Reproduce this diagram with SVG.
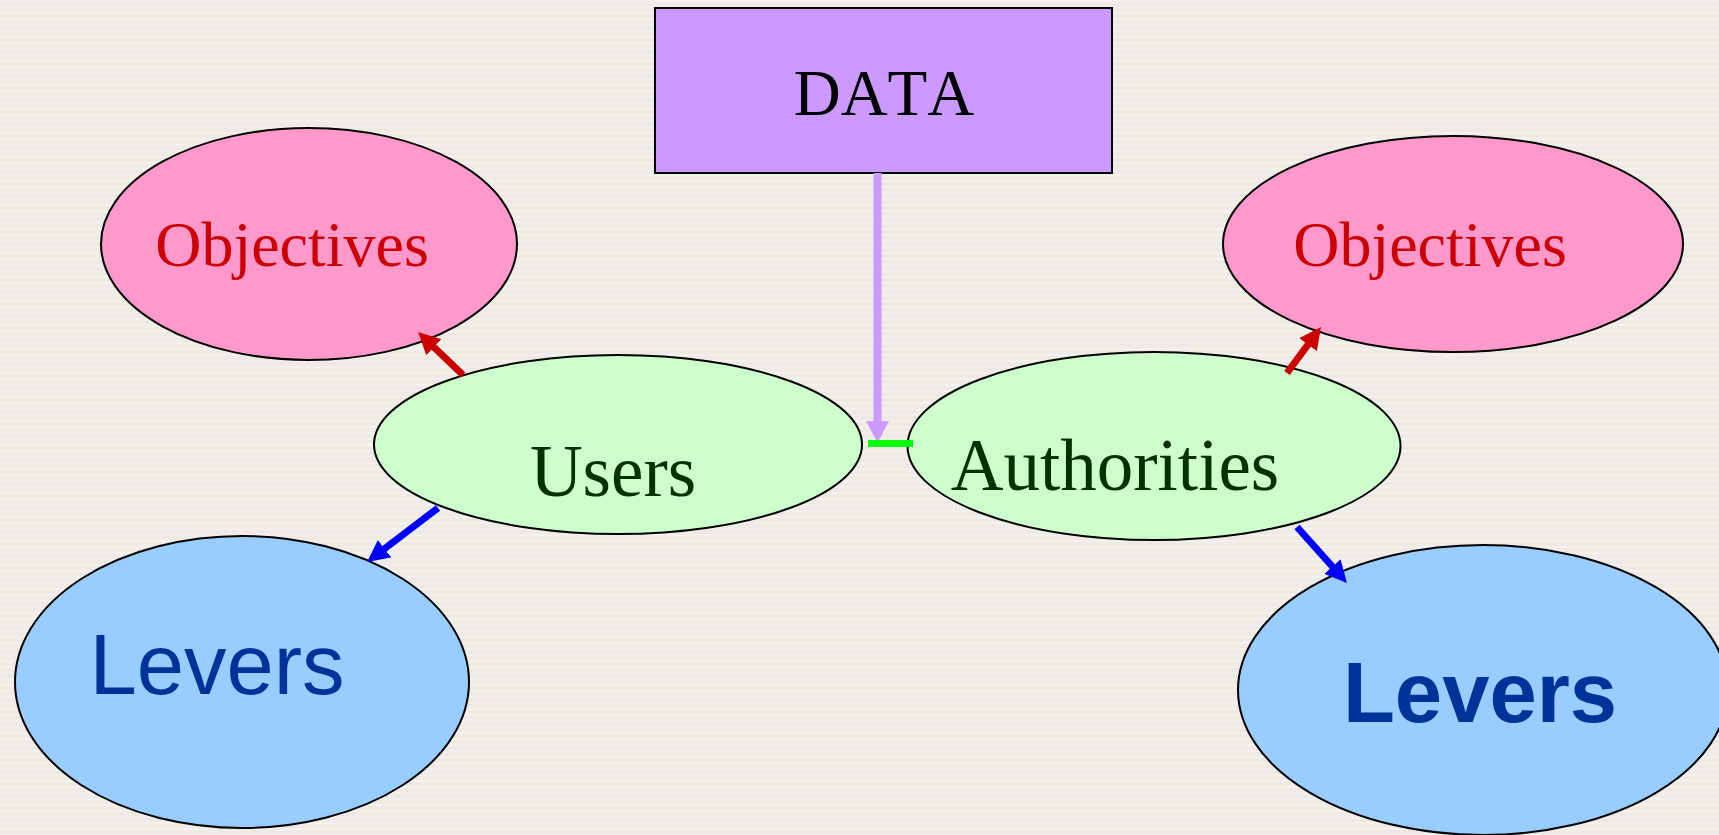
<svg xmlns="http://www.w3.org/2000/svg" width="1719" height="835" viewBox="0 0 1719 835">
  <defs>
    <pattern id="bgStripes" width="8" height="6" patternUnits="userSpaceOnUse">
      <rect width="8" height="6" fill="#EEEAE4"/>
      <rect y="0" width="8" height="2" fill="#F3F1EC"/>
    </pattern>
    <marker id="headRed" markerUnits="userSpaceOnUse" markerWidth="24" markerHeight="24" refX="10" refY="11" orient="auto">
      <path d="M0,0 L22,11 L0,22 z" fill="#CC0000"/>
    </marker>
    <marker id="headBlue" markerUnits="userSpaceOnUse" markerWidth="24" markerHeight="24" refX="10" refY="11" orient="auto">
      <path d="M0,0 L22,11 L0,22 z" fill="#0000FF"/>
    </marker>
    <marker id="headPurple" markerUnits="userSpaceOnUse" markerWidth="24" markerHeight="24" refX="10" refY="11.5" orient="auto">
      <path d="M0,0 L22,11.5 L0,23 z" fill="#CC99FF"/>
    </marker>
  </defs>
  <style>
    text { font-kerning: none; }
    .shape { stroke: #000000; stroke-width: 2; }
    .serif { font-family: "Liberation Serif", "Times New Roman", serif; }
    .sans { font-family: "Liberation Sans", Arial, sans-serif; }
    .obj { fill: #FF99CC; }
    .actor { fill: #CCFFCC; }
    .lever { fill: #99CCFF; }
    .objText { fill: #CC0000; font-size: 64px; }
    .actorText { fill: #003300; font-size: 73px; }
    .leverText { fill: #003399; font-size: 85px; }
    .redArrow { stroke: #CC0000; stroke-width: 7; fill: none; marker-end: url(#headRed); }
    .blueArrow { stroke: #0000FF; stroke-width: 7; fill: none; marker-end: url(#headBlue); }
  </style>

  <rect width="1719" height="835" fill="url(#bgStripes)"/>

  <g id="data">
    <rect x="655" y="8" width="457" height="165" fill="#CC99FF" stroke="#000000" stroke-width="2"/>
    <text x="884" y="115" text-anchor="middle" class="serif" font-size="65" fill="#000000">DATA</text>
  </g>

  <g id="objectives-left">
    <ellipse cx="309" cy="244" rx="208" ry="116" class="shape obj"/>
    <text x="292" y="266" text-anchor="middle" class="serif objText">Objectives</text>
  </g>

  <g id="objectives-right">
    <ellipse cx="1453" cy="244" rx="230" ry="108" class="shape obj"/>
    <text x="1430" y="266" text-anchor="middle" class="serif objText">Objectives</text>
  </g>

  <g id="users">
    <ellipse cx="618" cy="444.5" rx="244" ry="89.5" class="shape actor"/>
    <text x="613" y="496" text-anchor="middle" class="serif actorText">Users</text>
  </g>

  <g id="authorities">
    <ellipse cx="1154" cy="446" rx="246.5" ry="94" class="shape actor"/>
    <text x="1115" y="490" text-anchor="middle" class="serif actorText">Authorities</text>
  </g>

  <g id="levers-left">
    <ellipse cx="242" cy="682" rx="227" ry="146" class="shape lever"/>
    <text x="217" y="694" text-anchor="middle" class="sans leverText">Levers</text>
  </g>

  <g id="levers-right">
    <ellipse cx="1483" cy="690" rx="245" ry="145" class="shape lever"/>
    <text x="1480" y="722" text-anchor="middle" class="sans leverText" font-weight="bold">Levers</text>
  </g>

  <g id="connectors">
    <line x1="877.5" y1="173" x2="877.5" y2="431" stroke="#CC99FF" stroke-width="8" marker-end="url(#headPurple)"/>
    <line x1="868" y1="443.5" x2="913" y2="443.5" stroke="#00FF00" stroke-width="7"/>
    <line x1="463" y1="375" x2="426.7" y2="340.3" class="redArrow"/>
    <line x1="438" y1="508" x2="376.6" y2="554.7" class="blueArrow"/>
    <line x1="1287" y1="373" x2="1313.9" y2="336.6" class="redArrow"/>
    <line x1="1297" y1="527" x2="1339" y2="574" class="blueArrow"/>
  </g>
</svg>
